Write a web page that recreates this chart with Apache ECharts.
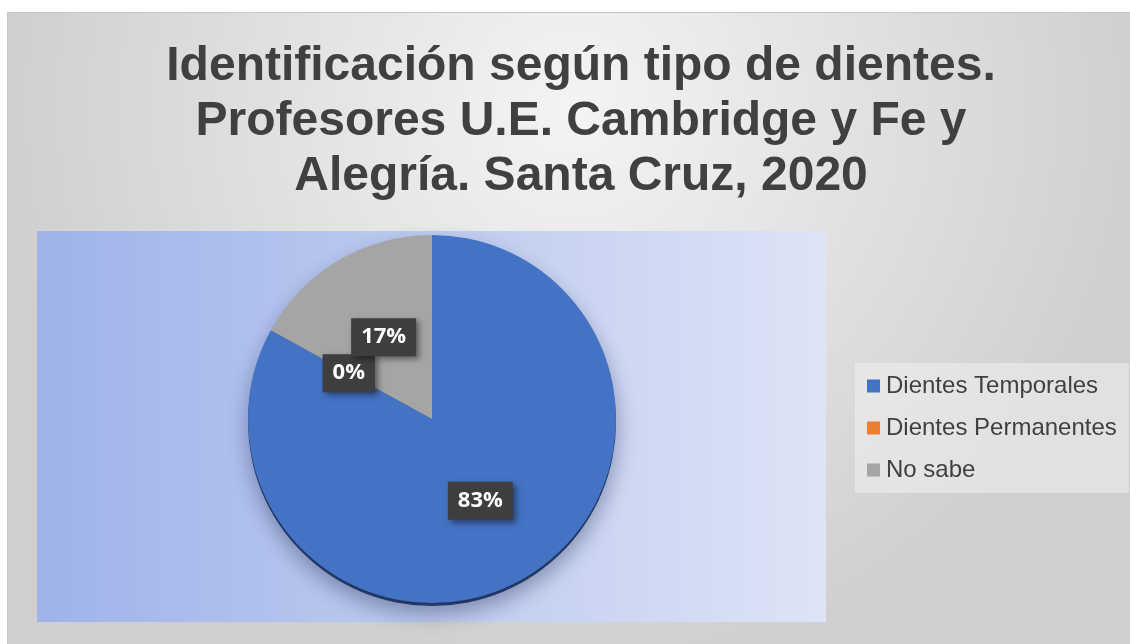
<!DOCTYPE html>
<html>
<head>
<meta charset="utf-8">
<script src="https://cdn.jsdelivr.net/npm/echarts@6/dist/echarts.min.js"></script>
<style>
  html, body { margin: 0; padding: 0; background: #fff; }
  #chart { width: 1130px; height: 644px; }
</style>
</head>
<body>
<div id="chart"></div>
<script>
var categories = ['Dientes Temporales', 'Dientes Permanentes', 'No sabe']
var values = [83, 0, 17]
var colors = ['#4472c4', '#ed7d31', '#a5a5a5']
var edgeColors = ['#1f3864', '#843c0c', '#595959']

var titleText = 'Identificación según tipo de dientes.\nProfesores U.E. Cambridge y Fe y\nAlegría. Santa Cruz, 2020'

var chart = echarts.init(document.getElementById('chart'))

var mainData = categories.map(function (name, i) {
  return { name: name, value: values[i], itemStyle: { color: colors[i] } }
})
var edgeData = categories.map(function (name, i) {
  return { name: name, value: values[i], itemStyle: { color: edgeColors[i] } }
})

var option = {
  animation: false,
  graphic: [
    {
      type: 'rect',
      z: -10,
      shape: { x: 7.5, y: 12.5, width: 1130, height: 640 },
      style: {
        stroke: '#c4c4c4',
        lineWidth: 1,
        fill: {
          type: 'radial', x: 0.5, y: 0.15, r: 0.9,
          colorStops: [
            { offset: 0, color: '#f4f4f4' },
            { offset: 1, color: '#cfcfcf' }
          ]
        }
      }
    },
    {
      type: 'rect',
      z: -9,
      shape: { x: 37, y: 231, width: 789, height: 391 },
      style: {
        fill: {
          type: 'linear', x: 0, y: 0, x2: 1, y2: 0,
          colorStops: [
            { offset: 0, color: '#9fb3ea' },
            { offset: 1, color: '#dee4f6' }
          ]
        }
      }
    }
  ],
  title: {
    text: titleText,
    left: 576,
    top: 34,
    textAlign: 'center',
    textStyle: {
      fontFamily: 'Liberation Sans',
      fontWeight: 'bold',
      fontSize: 48,
      lineHeight: 55,
      color: '#404040'
    }
  },
  legend: {
    orient: 'vertical',
    left: 855,
    top: 363,
    data: categories,
    icon: 'rect',
    itemWidth: 13,
    itemHeight: 13,
    itemGap: 16,
    padding: [10, 12, 10, 12],
    backgroundColor: 'rgba(240,240,240,0.55)',
    textStyle: {
      fontFamily: 'Liberation Sans',
      fontSize: 24,
      lineHeight: 26,
      color: '#404040',
      padding: [0, 0, 0, 1]
    }
  },
  series: [
    {
      name: 'main',
      type: 'pie',
      z: 3,
      center: [432, 419],
      radius: 184,
      startAngle: 90,
      clockwise: true,
      avoidLabelOverlap: false,
      labelLayout: { hideOverlap: false },
      data: mainData,
      itemStyle: { borderWidth: 0 },
      label: {
        show: true,
        position: 'inside',
        formatter: '{d}%',
        color: '#fff',
        fontFamily: 'Open Sans',
        fontWeight: 'bold',
        fontSize: 22,
        backgroundColor: '#3e3e3e',
        padding: [9, 10, 7, 10],
        shadowColor: 'rgba(0,0,0,0.45)',
        shadowBlur: 6,
        shadowOffsetX: 3,
        shadowOffsetY: 3
      },
      labelLine: { show: false },
      emphasis: { disabled: true }
    },
    {
      name: 'edge',
      type: 'pie',
      z: 2,
      silent: true,
      center: [432, 422],
      radius: 184,
      startAngle: 90,
      clockwise: true,
      data: edgeData,
      itemStyle: {
        shadowColor: 'rgba(40,50,90,0.45)',
        shadowBlur: 22,
        shadowOffsetY: 8
      },
      label: { show: false },
      labelLine: { show: false },
      emphasis: { disabled: true }
    }
  ]
}

chart.setOption(option)
</script>
</body>
</html>
